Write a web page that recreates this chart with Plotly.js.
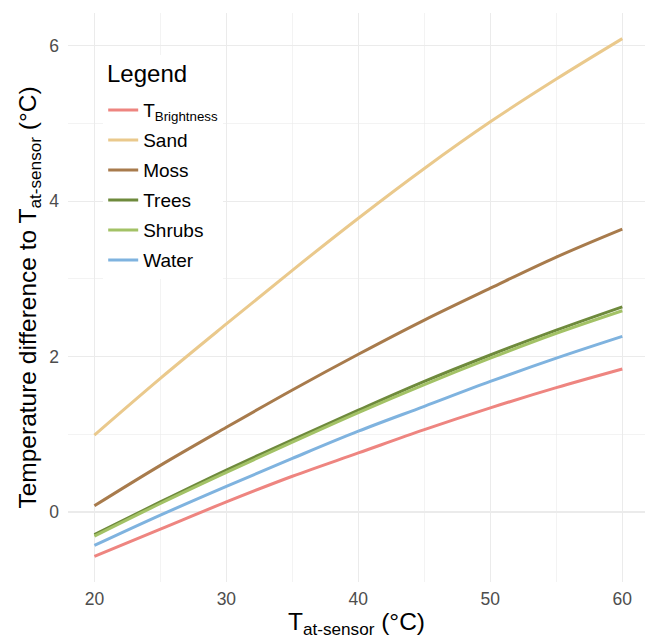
<!DOCTYPE html>
<html>
<head>
<meta charset="utf-8">
<script src="https://cdn.plot.ly/plotly-3.0.1.min.js"></script>
<style>html,body{margin:0;padding:0;background:#fff;}#chart{width:645px;height:639px;}</style>
</head>
<body>
<div id="chart"></div>
<script>
const tempAtSensor = [20, 25, 30, 35, 40, 45, 50, 55, 60];
const tBrightness = [-0.57, -0.22, 0.13, 0.46, 0.76, 1.06, 1.34, 1.60, 1.84];
const sand = [0.99, 1.72, 2.42, 3.11, 3.78, 4.42, 5.02, 5.57, 6.09];
const moss = [0.08, 0.60, 1.09, 1.57, 2.03, 2.47, 2.88, 3.28, 3.64];
const trees = [-0.29, 0.13, 0.54, 0.93, 1.31, 1.68, 2.02, 2.34, 2.64];
const shrubs = [-0.31, 0.11, 0.51, 0.90, 1.28, 1.64, 1.98, 2.30, 2.59];
const water = [-0.43, -0.04, 0.33, 0.69, 1.04, 1.36, 1.68, 1.98, 2.26];

const seriesNames = ["T<sub>Brightness</sub>", "Sand", "Moss", "Trees", "Shrubs", "Water"];
const seriesValues = [tBrightness, sand, moss, trees, shrubs, water];
const seriesColors = ["#EE8580", "#EAC98C", "#A87B4C", "#6E8A3C", "#A3C266", "#7FB3DF"];
const legendTitle = "Legend";

const traces = seriesNames.map((name, i) => ({
  x: tempAtSensor,
  y: seriesValues[i],
  type: "scatter",
  mode: "lines",
  name: name,
  legendgroup: "g" + i,
  line: {color: seriesColors[i], width: 3, shape: "spline"}
}));

const font = "Liberation Sans, Arial, Helvetica, sans-serif";
const layout = {
  width: 645,
  height: 639,
  paper_bgcolor: "#ffffff",
  plot_bgcolor: "#ffffff",
  margin: {l: 67.6, r: 0, t: 12.8, b: 56.7, pad: 0},
  font: {family: font, color: "#000000"},
  showlegend: true,
  legend: {
    x: 0.061, y: 0.8628, xanchor: "left", yanchor: "top",
    bgcolor: "#ffffff", borderwidth: 0,
    font: {size: 19, color: "#000000", family: font},
    tracegroupgap: 2.3,
    itemwidth: 30
  },
  annotations: [{
    text: legendTitle,
    xref: "paper", yref: "paper",
    x: 0.0596, y: 0.8943, xanchor: "left", yanchor: "middle",
    showarrow: false,
    bgcolor: "#ffffff", borderpad: 5, borderwidth: 0,
    font: {size: 24, color: "#000000", family: font}
  }],
  xaxis: {
    range: [18, 61.72],
    tickmode: "array",
    tickvals: [20, 30, 40, 50, 60],
    ticktext: ["20", "30", "40", "50", "60"],
    showgrid: true, gridcolor: "#EBEBEB", gridwidth: 1.1,
    minor: {tickmode: "array", tickvals: [25, 35, 45, 55], showgrid: true, gridcolor: "#EBEBEB", gridwidth: 0.6},
    zeroline: false, showline: false, ticks: "",
    ticklabelstandoff: 4,
    tickfont: {size: 17.5, color: "#4D4D4D", family: font},
    title: {text: "T<sub>at-sensor</sub> (°C)", font: {size: 24.5, color: "#000000", family: font}, standoff: 8}
  },
  yaxis: {
    range: [-0.9, 6.42],
    tickmode: "array",
    tickvals: [0, 2, 4, 6],
    ticktext: ["0", "2", "4", "6"],
    showgrid: true, gridcolor: "#EBEBEB", gridwidth: 1.1,
    minor: {tickmode: "array", tickvals: [1, 3, 5], showgrid: true, gridcolor: "#EBEBEB", gridwidth: 0.6},
    zeroline: false, showline: false, ticks: "",
    ticklabelstandoff: 8,
    tickfont: {size: 17.5, color: "#4D4D4D", family: font},
    title: {text: "Temperature difference to T<sub>at-sensor</sub> (°C)", font: {size: 24.5, color: "#000000", family: font}, standoff: 5}
  }
};

Plotly.newPlot("chart", traces, layout, {displayModeBar: false, staticPlot: true});
</script>
</body>
</html>
